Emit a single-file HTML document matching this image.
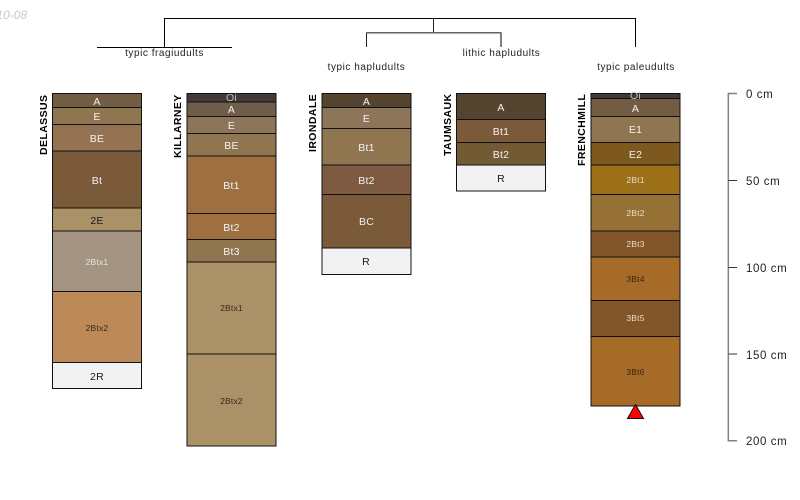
<!DOCTYPE html>
<html><head><meta charset="utf-8"><style>
html,body{margin:0;padding:0;background:#fff;width:800px;height:500px;overflow:hidden}
svg{display:block}
text{font-family:"Liberation Sans",sans-serif}
.h{font-size:10.5px;text-anchor:middle;letter-spacing:.25px}
.s{font-size:8.5px;text-anchor:middle;letter-spacing:.2px}
.n{font-size:10.5px;font-weight:bold;fill:#000;letter-spacing:.4px}
.t{font-size:10px;text-anchor:middle;fill:#222;letter-spacing:.55px}
.d{font-size:11.5px;fill:#222;letter-spacing:.6px}
</style></head><body>
<svg xmlns="http://www.w3.org/2000/svg" width="800" height="500" viewBox="0 0 800 500">
<text x="-17" y="19" font-size="12" font-style="italic" fill="#c8c8c8">2010-08</text>
<g fill="none" stroke="#000" stroke-width="1">
<path d="M164.5 47V18.5H635.5V47"/>
<path d="M97 47.5H232"/>
<path d="M433.5 18.5V32.5" stroke="#222"/>
<path d="M366.5 47V32.5" stroke="#222"/>
<path d="M366 32.8H501" stroke="#666" stroke-width="1.5"/>
<path d="M501 32.500V47" stroke="#555" stroke-width="1.5"/>
</g>
<text class="t" x="164.5" y="56">typic fragiudults</text>
<text class="t" x="366.5" y="70">typic hapludults</text>
<text class="t" x="501.5" y="56">lithic hapludults</text>
<text class="t" x="636" y="70">typic paleudults</text>

<g stroke="#111" stroke-width="1">
<!-- DELASSUS -->
<rect x="52.5" y="93.5" width="89" height="14" fill="#725d42"/>
<rect x="52.5" y="107.5" width="89" height="17" fill="#8f7650"/>
<rect x="52.5" y="124.5" width="89" height="26.5" fill="#947252"/>
<rect x="52.5" y="151" width="89" height="57" fill="#7b5a3a"/>
<rect x="52.5" y="208" width="89" height="23" fill="#ab9168"/>
<rect x="52.5" y="231" width="89" height="60.5" fill="#a29480"/>
<rect x="52.5" y="291.5" width="89" height="71" fill="#bb8a58"/>
<rect x="52.5" y="362.5" width="89" height="26" fill="#f2f2f2"/>
<!-- KILLARNEY -->
<rect x="187" y="93.5" width="89" height="8.5" fill="#413a36"/>
<rect x="187" y="102" width="89" height="14.5" fill="#6f5d4a"/>
<rect x="187" y="116.5" width="89" height="17" fill="#8d755a"/>
<rect x="187" y="133.5" width="89" height="22.5" fill="#8f7650"/>
<rect x="187" y="156" width="89" height="57.5" fill="#9e6f40"/>
<rect x="187" y="213.5" width="89" height="26" fill="#9e6f40"/>
<rect x="187" y="239.5" width="89" height="22.5" fill="#8f7650"/>
<rect x="187" y="262" width="89" height="92" fill="#ab9168"/>
<rect x="187" y="354" width="89" height="92" fill="#ab9168"/>
<!-- IRONDALE -->
<rect x="322" y="93.5" width="89" height="14" fill="#54442f"/>
<rect x="322" y="107.5" width="89" height="21" fill="#8d755a"/>
<rect x="322" y="128.5" width="89" height="36.5" fill="#8f7650"/>
<rect x="322" y="165" width="89" height="29.5" fill="#7e5a42"/>
<rect x="322" y="194.5" width="89" height="53.5" fill="#7b5a3a"/>
<rect x="322" y="248" width="89" height="26.5" fill="#f2f2f2"/>
<!-- TAUMSAUK -->
<rect x="456.5" y="93.5" width="89" height="26" fill="#54442f"/>
<rect x="456.5" y="119.5" width="89" height="23" fill="#7b5a3a"/>
<rect x="456.5" y="142.5" width="89" height="22.5" fill="#725a35"/>
<rect x="456.5" y="165" width="89" height="26" fill="#f2f2f2"/>
<!-- FRENCHMILL -->
<rect x="591" y="93.5" width="89" height="5" fill="#413a36"/>
<rect x="591" y="98.5" width="89" height="18" fill="#725d42"/>
<rect x="591" y="116.5" width="89" height="26" fill="#8f7650"/>
<rect x="591" y="142.5" width="89" height="22.5" fill="#7d581f"/>
<rect x="591" y="165" width="89" height="29.5" fill="#9c7019"/>
<rect x="591" y="194.5" width="89" height="36.5" fill="#967135"/>
<rect x="591" y="231" width="89" height="26" fill="#825629"/>
<rect x="591" y="257" width="89" height="43.5" fill="#a66c27"/>
<rect x="591" y="300.5" width="89" height="36" fill="#825629"/>
<rect x="591" y="336.5" width="89" height="69.5" fill="#a66c27"/>
</g>

<g fill="#f2f2f2">
<text class="h" x="97" y="105">A</text><text class="h" x="97" y="120">E</text><text class="h" x="97" y="142">BE</text><text class="h" x="97" y="184">Bt</text>
<text class="s" x="97" y="265" fill="#e6e6e6">2Btx1</text>
<text class="h" x="231.500" y="101" fill="#bdbdbd">Oi</text><text class="h" x="231.500" y="113">A</text><text class="h" x="231.500" y="129">E</text><text class="h" x="231.500" y="149">BE</text><text class="h" x="231.500" y="189">Bt1</text><text class="h" x="231.500" y="231">Bt2</text><text class="h" x="231.500" y="255">Bt3</text>
<text class="h" x="366.5" y="105">A</text><text class="h" x="366.5" y="122">E</text><text class="h" x="366.5" y="151">Bt1</text><text class="h" x="366.5" y="184">Bt2</text><text class="h" x="366.5" y="225">BC</text>
<text class="h" x="501" y="111">A</text><text class="h" x="501" y="135">Bt1</text><text class="h" x="501" y="158">Bt2</text>
<text class="h" x="635.5" y="99" fill="#bdbdbd">Oi</text><text class="h" x="635.5" y="112">A</text><text class="h" x="635.5" y="133">E1</text><text class="h" x="635.5" y="158">E2</text>
<text class="s" x="635.5" y="183" fill="#e6dcc8">2Bt1</text><text class="s" x="635.5" y="216" fill="#e6dcc8">2Bt2</text><text class="s" x="635.5" y="247" fill="#e6dcc8">2Bt3</text><text class="s" x="635.5" y="321" fill="#e6dcc8">3Bt5</text>
</g>
<g fill="#1a1a1a">
<text class="h" x="97" y="224">2E</text><text class="h" x="97" y="380">2R</text>
<text class="s" x="97" y="331" fill="#3a2a18">2Btx2</text>
<text class="s" x="231.500" y="311" fill="#3a2a18">2Btx1</text><text class="s" x="231.500" y="404" fill="#3a2a18">2Btx2</text>
<text class="h" x="366" y="265">R</text><text class="h" x="501" y="182">R</text>
<text class="s" x="635.5" y="282" fill="#3a2410">3Bt4</text><text class="s" x="635.5" y="375" fill="#3a2410">3Bt6</text>
</g>

<text class="n" transform="translate(47 155) rotate(-90)">DELASSUS</text>
<text class="n" transform="translate(181 158) rotate(-90)">KILLARNEY</text>
<text class="n" transform="translate(316 152) rotate(-90)">IRONDALE</text>
<text class="n" transform="translate(451 156) rotate(-90)">TAUMSAUK</text>
<text class="n" transform="translate(585 166) rotate(-90)">FRENCHMILL</text>

<polygon points="635.5,404.500 643.500,418.500 627.500,418.500" fill="#ff0000" stroke="#111" stroke-width="1"/>

<path d="M737 93.500H728.300V440.700H737" fill="none" stroke="#808080" stroke-width="1.500"/>
<path d="M728.500 180.500H737M728.500 267.500H737M728.500 354H737" fill="none" stroke="#333" stroke-width="1"/>
<text class="d" x="746" y="98">0 cm</text>
<text class="d" x="746" y="185">50 cm</text>
<text class="d" x="746" y="272">100 cm</text>
<text class="d" x="746" y="359">150 cm</text>
<text class="d" x="746" y="445">200 cm</text>
</svg>
</body></html>
